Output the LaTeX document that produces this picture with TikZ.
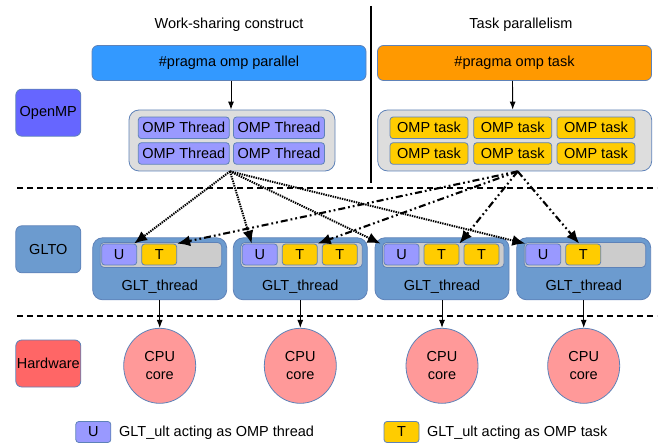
\documentclass[tikz,border=0pt]{standalone}
\usepackage{fontspec}
\setmainfont{Liberation Sans}
\usetikzlibrary{arrows.meta,shapes.geometric}
\definecolor{pragblue}{HTML}{3399FF}
\definecolor{pragorange}{HTML}{FF9900}
\definecolor{openmpc}{HTML}{6666FF}
\definecolor{thrblue}{HTML}{9999FF}
\definecolor{taskyel}{HTML}{FFCC00}
\definecolor{contgray}{HTML}{DDDDDD}
\definecolor{bargray}{HTML}{CCCCCC}
\definecolor{gltblue}{HTML}{6C9BCF}
\definecolor{hwred}{HTML}{FF6666}
\definecolor{cpupink}{HTML}{FF9999}
\definecolor{bordc}{HTML}{5E82B8}
\tikzset{
  base/.style={draw=bordc, line width=0.8pt, inner sep=0pt},
  lbl/.style={base, rounded corners=6pt, minimum width=65pt, minimum height=47pt},
  pragma/.style={base, rounded corners=6pt, minimum width=274pt, minimum height=35pt},
  cont/.style={base, fill=contgray, rounded corners=10pt, minimum height=61pt},
  thr/.style={base, fill=thrblue, rounded corners=3pt, minimum width=91pt, minimum height=21.5pt},
  tsk/.style={base, fill=taskyel, rounded corners=3pt, minimum width=78pt, minimum height=21.5pt},
  glt/.style={base, fill=gltblue, rounded corners=10pt, minimum width=134pt, minimum height=62pt},
  bar/.style={base, fill=bargray, rounded corners=4pt, minimum width=121.5pt, minimum height=25pt},
  ubox/.style={base, fill=thrblue, rounded corners=3pt, minimum width=35pt, minimum height=21pt},
  tbox/.style={base, fill=taskyel, rounded corners=3pt, minimum width=35pt, minimum height=21pt},
  cpu/.style={base, ellipse, fill=cpupink, minimum width=72pt, minimum height=75pt, align=center, font=\fontsize{14.5}{18}\selectfont},
  plain/.style={inner sep=0pt},
  flow/.style={-{Latex[length=8pt,width=6pt]}, line width=0.9pt},
  thrarrow/.style={-{Latex[length=13pt,width=11pt]}, line width=2pt, dash pattern=on 1.4pt off 1pt},
  taskarrow/.style={-{Latex[length=13pt,width=11pt]}, line width=2.1pt, dash pattern=on 7pt off 3pt on 1.8pt off 3pt on 1.8pt off 3pt},
  sepline/.style={line width=2pt, dash pattern=on 6pt off 4pt}
}
\begin{document}
\begin{tikzpicture}[x=1pt, y=-1pt, font=\fontsize{14.5}{17}\selectfont]
\useasboundingbox (0,0) rectangle (658,443);

% separators
\coordinate (s1a) at (17,188.3);
\coordinate (s1b) at (657,188.3);
\coordinate (s2a) at (17,316.5);
\coordinate (s2b) at (657,316.5);
\coordinate (v1) at (371,6);
\coordinate (v2) at (371,183);
\draw[sepline] (s1a) -- (s1b);
\draw[sepline] (s2a) -- (s2b);
\draw[line width=2pt] (v1) -- (v2);

% headers
\node[plain] (hws) at (229,25) {Work-sharing construct};
\node[plain] (htp) at (521,24.5) {Task parallelism};

% layer labels
\node[lbl, fill=openmpc] (lomp) at (48.3,112.7) {OpenMP};
\node[lbl, fill=gltblue] (lglto) at (48.3,249.3) {GLTO};
\node[lbl, fill=hwred] (lhw) at (48.3,363.5) {Hardware};

% pragmas
\node[pragma, fill=pragblue] (pp) at (229,63) {\#pragma omp parallel};
\node[pragma, fill=pragorange] (pt) at (514.5,63) {\#pragma omp task};

% containers
\node[cont, minimum width=206pt] (tc) at (232,140.5) {};
\node[cont, minimum width=274pt] (tk) at (514.7,140.5) {};

\node[thr] (th1) at (183.8,127.8) {OMP Thread};
\node[thr] (th2) at (279,127.8) {OMP Thread};
\node[thr] (th3) at (183.8,153.5) {OMP Thread};
\node[thr] (th4) at (279,153.5) {OMP Thread};

\node[tsk] (tk1) at (429,127.8) {OMP task};
\node[tsk] (tk2) at (512.7,127.8) {OMP task};
\node[tsk] (tk3) at (596,127.8) {OMP task};
\node[tsk] (tk4) at (429,153.5) {OMP task};
\node[tsk] (tk5) at (512.7,153.5) {OMP task};
\node[tsk] (tk6) at (596,153.5) {OMP task};

\draw[flow] ([xshift=2pt]pp.south) -- ([xshift=-1pt]tc.north);
\draw[flow] ([xshift=-2pt]pt.south) -- ([xshift=-2pt]tk.north);

% GLT threads
\foreach \i/\L in {1/92.7, 2/233.3, 3/375, 4/516.7}{
  \node[glt] (g\i) at ({\L+67},268.8) {};
  \node[bar] (b\i) at ({\L+68.25},255) {};
  \node[plain] (gt\i) at ({\L+67},287) {GLT\_thread};
  \node[ubox] (u\i) at ({\L+26.5},254.5) {U};
  \node[tbox] (t\i) at ({\L+66.5},254.5) {T};
  \node[cpu] (c\i) at ({\L+67},365.8) {CPU\\core};
  \draw[flow] (g\i.south) -- (c\i.north);
}
\node[tbox] (t2b) at ({233.3+106.5},254.5) {T};
\node[tbox] (t3b) at ({375+106.5},254.5) {T};

% mapping arrows
\draw[thrarrow] ([xshift=-2pt]tc.south) -- ([xshift=-3pt]u1.north east);
\draw[thrarrow] ([xshift=-2pt]tc.south) -- ([xshift=-8pt]u2.north);
\draw[thrarrow] ([xshift=-2pt]tc.south) -- ([xshift=-3pt]u3.north west);
\draw[thrarrow] ([xshift=-2pt]tc.south) -- (u4.north west);

\draw[taskarrow] ([xshift=3pt]tk.south) -- (t1.north east);
\draw[taskarrow] ([xshift=3pt]tk.south) -- (t2.north east);
\draw[taskarrow] ([xshift=3pt]tk.south) -- (t3.north east);
\draw[taskarrow] ([xshift=3pt]tk.south) -- ([xshift=-4pt]t4.north);

% legend
\node[ubox] (lgu) at (93.3,432) {U};
\node[plain, anchor=west] (lgut) at (119,433) {GLT\_ult acting as OMP thread};
\node[tbox] (lgt) at (401.5,432) {T};
\node[plain, anchor=west] (lgtt) at (427,433) {GLT\_ult acting as OMP task};
\end{tikzpicture}
\end{document}
